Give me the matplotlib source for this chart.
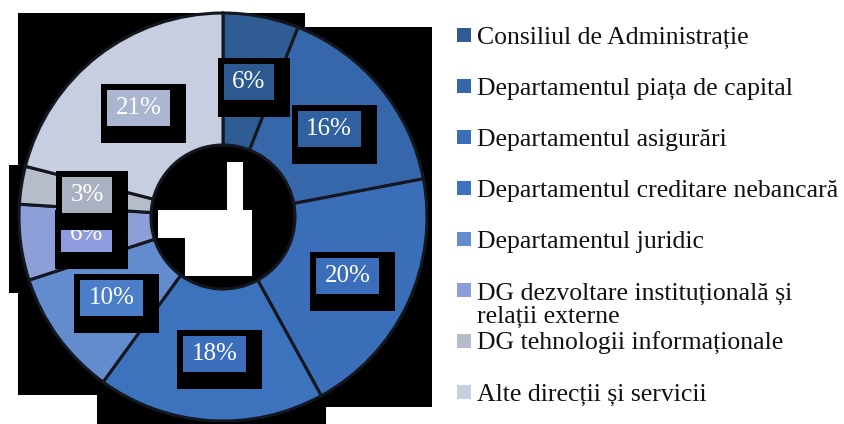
import matplotlib
matplotlib.use("Agg")
import matplotlib.pyplot as plt
from matplotlib.patches import Rectangle

# Staff distribution by structural unit (%)
categories = [
    "Consiliul de Administrație",
    "Departamentul piața de capital",
    "Departamentul asigurări",
    "Departamentul creditare nebancară",
    "Departamentul juridic",
    "DG dezvoltare instituțională și\nrelații externe",
    "DG tehnologii informaționale",
    "Alte direcții și servicii",
]
shares = [6, 16, 20, 18, 10, 6, 3, 21]

slice_colors = ["#2f5c93", "#3567aa", "#3a6eb8", "#3d72bd", "#628cce",
                "#8d9fd8", "#b6bcca", "#c6cee0"]
box_colors = ["#2c5990", "#2f60a0", "#3a6dba", "#3b6fbd", "#4a7ec9",
              "#8e9bdc", "#aab1c0", "#aab5d0"]

W, H = 845, 424
fig = plt.figure(figsize=(W / 100, H / 100), dpi=100)
ax = fig.add_axes([0, 0, 1, 1])


def rect(x0, y0, x1, y1, color, z):
    """Rectangle given in top-left-origin pixel coordinates."""
    ax.add_patch(Rectangle((x0, H - y1), x1 - x0, y1 - y0,
                           facecolor=color, edgecolor="none", zorder=z))


# dark backdrop behind the ring
for r in [(18, 13, 305, 395), (290, 27, 432, 407), (9, 165, 30, 293),
          (97, 390, 326, 424)]:
    rect(*r, "black", 0)
# light patches in the hole
for r in [(227, 162, 243, 215), (158, 210, 252, 238), (185, 237, 252, 276)]:
    rect(*r, "white", 0.5)

cx, cy, R = 223, H - 217, 204
wedges, _, pct_texts = ax.pie(
    shares, radius=R, center=(cx, cy), startangle=90, counterclock=False,
    colors=slice_colors, autopct=lambda p: f"{p:.0f}%", pctdistance=0.675,
    wedgeprops=dict(width=R * 0.647, edgecolor="#14171f", linewidth=2.2),
)

font = "Liberation Serif"
for i, t in enumerate(pct_texts):
    t.set_color("white")
    t.set_fontsize(18)
    t.set_family(font)
    t.set_zorder(5 + 3 * i)

ax.set_xlim(0, W)
ax.set_ylim(0, H)
ax.set_aspect("equal")
ax.axis("off")

fig.canvas.draw()
renderer = fig.canvas.get_renderer()
for i, t in enumerate(pct_texts):
    bb = t.get_window_extent(renderer)
    xc, yc = t.get_position()
    bw = bb.width + 17
    bh = 36
    x0, y0 = xc - bw / 2, (H - yc) - bh / 2
    rect(x0 - 6, y0 - 6, x0 + bw + 16, y0 + bh + 17, "black", 3 + 3 * i)
    rect(x0, y0, x0 + bw, y0 + bh, box_colors[i], 4 + 3 * i)

# legend
line_pitch = 24
for i, (name, col) in enumerate(zip(categories, slice_colors)):
    yc = 35 + 51 * i
    rect(457, yc - 7, 471, yc + 7, col, 40)
    last_baseline = yc + 9 + line_pitch * name.count("\n")
    ax.text(477, H - last_baseline, name, ha="left", va="baseline",
            fontsize=18.5, family=font, color="#111111", linespacing=1.07,
            zorder=40)

fig.savefig("out.png", dpi=100)
